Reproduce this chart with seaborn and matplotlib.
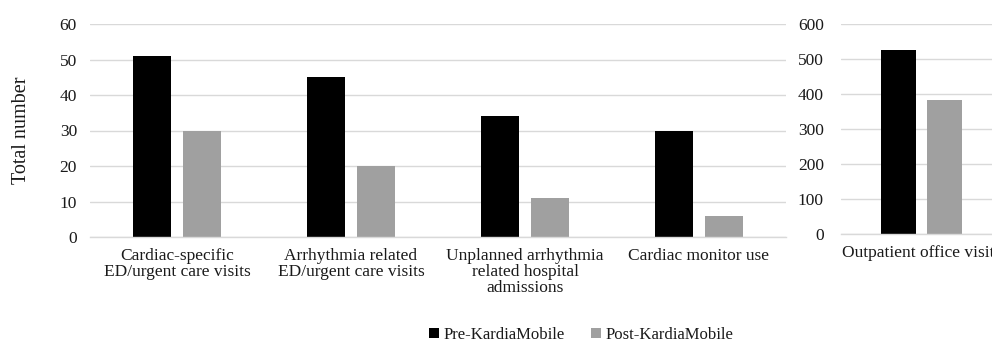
import matplotlib
matplotlib.use("Agg")
import matplotlib.pyplot as plt
from matplotlib.patches import Patch
import pandas as pd
import seaborn as sns

# Counts before and after introduction of KardiaMobile
categories = [
    "Cardiac-specific\nED/urgent care visits",
    "Arrhythmia related\nED/urgent care visits",
    "Unplanned arrhythmia\nrelated hospital\nadmissions",
    "Cardiac monitor use",
]
pre_counts = [51, 45, 34, 30]
post_counts = [30, 20, 11, 6]

office_category = ["Outpatient office visits"]
office_pre = [525]
office_post = [382]

series_names = ["Pre-KardiaMobile", "Post-KardiaMobile"]
series_colors = ["#000000", "#a0a0a0"]

left_ticks = [0, 10, 20, 30, 40, 50, 60]
right_ticks = [0, 100, 200, 300, 400, 500, 600]


def long_table(cats, pre, post):
    return pd.DataFrame({
        "category": cats + cats,
        "count": pre + post,
        "period": [series_names[0]] * len(cats) + [series_names[1]] * len(cats),
    })


sns.set_style("white")
plt.rcParams["font.family"] = ["Liberation Serif", "DejaVu Serif"]

W, H = 992, 343
fig = plt.figure(figsize=(W / 100, H / 100), dpi=100)
ax1 = fig.add_axes([90 / W, 106 / H, 696 / W, 213 / H])
ax2 = fig.add_axes([840.5 / W, 109 / H, 162 / W, 210.3 / H])

palette = dict(zip(series_names, series_colors))
grid_color = "#d9d9d9"


def draw(ax, data, ticks, pad):
    sns.barplot(data=data, x="category", y="count", hue="period",
                palette=palette, width=0.569, gap=0.23, saturation=1,
                linewidth=0, ax=ax, legend=False)
    ax.set_ylim(ticks[0], ticks[-1])
    ax.set_yticks(ticks)
    ax.set_xlabel("")
    ax.set_ylabel("")
    ax.yaxis.grid(True, color=grid_color, linewidth=1.0)
    ax.set_axisbelow(True)
    for side in ["top", "right", "left"]:
        ax.spines[side].set_visible(False)
    ax.spines["bottom"].set_color(grid_color)
    ax.spines["bottom"].set_linewidth(1.0)
    ax.tick_params(axis="both", length=0, labelsize=12.5, colors="#1a1a1a")
    ax.tick_params(axis="y", pad=pad)
    ax.tick_params(axis="x", pad=8)
    for lbl in ax.get_xticklabels():
        lbl.set_linespacing(1.0)
        lbl.set_verticalalignment("top")


draw(ax1, long_table(categories, pre_counts, post_counts), left_ticks, 9.4)
draw(ax2, long_table(office_category, office_pre, office_post), right_ticks, 12)

ax1.set_ylabel("Total number", fontsize=14.5, color="#1a1a1a", labelpad=20.5)

handles = [Patch(facecolor=c, edgecolor="none") for c in series_colors]
fig.legend(handles, series_names, loc="center", bbox_to_anchor=(581 / W, 8 / H),
           ncol=2, frameon=False, fontsize=12, handlelength=0.6,
           handleheight=0.6, handletextpad=0.25, columnspacing=1.6,
           labelcolor="#1a1a1a")

fig.savefig("out.png", dpi=100)
